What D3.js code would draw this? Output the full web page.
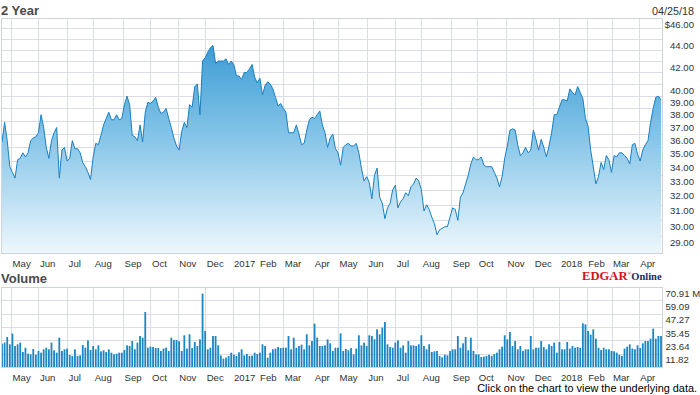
<!DOCTYPE html>
<html>
<head>
<meta charset="utf-8">
<script src="https://cdn.jsdelivr.net/npm/d3@7"></script>
<style>
  html, body { margin: 0; padding: 0; background: #fff; }
  svg { display: block; }
  text { font-family: "Liberation Sans", Arial, sans-serif; }
  text.logo { font-family: "Liberation Serif", "Times New Roman", serif; }
</style>
</head>
<body>
<svg id="chart" width="700" height="395"></svg>
<script>
// ---- data (sampled every 2 trading days, 21 Apr 2016 .. 25 Apr 2018) ----
const sampleStep = 2;
const priceValues = [
  35.4, 36.9, 35.5, 33.6, 33.2, 32.8, 34.1, 34.2, 34.6, 34.3,
  34.6, 35.5, 35.7, 35.8, 36.1, 37.5, 36.5, 35.0, 34.2, 35.5,
  36.1, 36.5, 32.8, 34.8, 35.0, 34.0, 34.2, 35.5, 34.9, 34.9,
  34.6, 33.9, 33.6, 33.2, 32.7, 34.3, 35.3, 35.2, 35.9, 36.7,
  37.2, 37.7, 37.1, 37.1, 37.5, 37.1, 37.2, 38.3, 39.0, 38.3,
  35.9, 35.8, 35.5, 36.7, 35.4, 37.7, 38.5, 38.4, 38.6, 38.9,
  38.1, 37.6, 37.7, 38.0, 37.2, 36.5, 35.7, 35.1, 34.8, 36.2,
  36.9, 36.5, 38.3, 38.1, 39.8, 40.0, 37.5, 42.0, 42.3, 42.8,
  43.2, 43.4, 41.8, 42.0, 42.0, 42.0, 42.2, 41.7, 42.0, 41.7,
  40.7, 40.7, 40.4, 41.0, 41.0, 41.3, 41.7, 40.6, 40.1, 40.5,
  39.1, 39.9, 40.2, 40.0, 39.6, 38.9, 38.2, 38.4, 38.0, 37.7,
  36.1, 36.1, 36.1, 36.7, 36.0, 35.2, 35.3, 36.3, 37.1, 37.3,
  37.2, 37.5, 37.8, 36.7, 36.1, 35.0, 35.7, 36.0, 34.9, 34.6,
  33.7, 35.0, 35.2, 35.3, 35.1, 35.1, 35.3, 34.6, 33.5, 32.6,
  32.9, 32.5, 31.4, 33.0, 33.5, 31.5, 31.1, 30.1, 30.8, 31.1,
  32.0, 32.3, 30.8, 31.2, 31.4, 31.8, 31.6, 32.2, 32.4, 32.8,
  32.6, 32.0, 30.6, 31.0, 30.7, 30.2, 29.8, 29.1, 29.4, 29.5,
  29.6, 29.6, 30.2, 30.8, 30.7, 30.0, 31.5, 31.8, 32.4, 33.0,
  33.8, 34.3, 34.1, 34.1, 34.3, 33.7, 33.6, 33.6, 33.6, 33.2,
  32.8, 32.2, 32.9, 34.2, 35.1, 36.3, 36.4, 36.3, 35.2, 34.4,
  34.6, 35.0, 34.6, 34.8, 36.3, 35.6, 34.8, 35.6, 35.0, 34.3,
  35.1, 36.1, 37.5, 37.5, 38.1, 38.7, 38.7, 38.6, 39.6, 39.3,
  39.1, 39.8, 39.3, 38.8, 37.2, 36.6, 34.8, 33.6, 32.4, 32.9,
  33.9, 33.4, 34.4, 34.1, 33.2, 34.4, 34.3, 34.6, 34.6, 34.4,
  34.2, 33.8, 35.2, 35.3, 34.5, 34.0, 34.8, 35.2, 35.5, 36.9,
  38.0, 38.9, 39.0, 38.7
];
const volumeValues = [
  20.7, 21.6, 26.6, 20.1, 29.6, 18.6, 20.1, 21.6, 13.3, 17.1,
  11.8, 11.2, 16.0, 10.9, 14.2, 12.7, 15.7, 17.1, 15.7, 21.6,
  14.8, 12.7, 26.0, 14.2, 15.7, 16.3, 10.6, 9.8, 15.7, 9.8,
  10.3, 19.5, 17.1, 23.6, 15.1, 18.6, 15.7, 19.2, 13.9, 14.8,
  13.3, 15.7, 12.7, 11.2, 11.8, 12.7, 12.7, 15.1, 19.2, 18.6,
  23.0, 15.7, 21.6, 27.5, 26.0, 48.8, 17.1, 18.0, 17.7, 16.8,
  16.8, 14.2, 16.3, 17.1, 14.2, 26.0, 23.9, 23.9, 22.8, 14.2,
  28.1, 16.3, 29.0, 16.8, 22.2, 18.6, 24.5, 65.0, 31.9, 15.7,
  17.1, 27.5, 27.5, 19.2, 10.3, 7.4, 8.3, 9.8, 12.7, 10.9,
  9.8, 13.0, 15.7, 10.3, 11.5, 9.8, 10.0, 12.7, 11.5, 12.7,
  20.1, 18.6, 8.3, 12.7, 15.7, 16.3, 17.7, 16.8, 17.1, 17.1,
  27.5, 15.7, 26.0, 17.1, 18.6, 19.8, 15.7, 29.0, 19.2, 23.0,
  38.4, 26.0, 18.6, 18.6, 19.2, 24.5, 21.0, 14.2, 17.1, 17.1,
  29.8, 14.2, 16.0, 14.8, 16.8, 11.2, 16.3, 28.1, 19.2, 21.6,
  18.6, 28.1, 27.5, 24.5, 33.4, 29.0, 34.9, 39.9, 20.1, 17.7,
  17.1, 21.6, 23.6, 17.1, 19.2, 12.7, 23.0, 19.2, 19.2, 18.6,
  20.1, 28.1, 18.6, 15.7, 20.1, 13.3, 13.9, 14.2, 9.8, 8.6,
  10.9, 10.3, 14.2, 15.7, 15.7, 27.5, 17.1, 21.0, 26.6, 14.8,
  26.0, 14.2, 11.2, 11.2, 8.9, 9.2, 9.8, 10.9, 9.8, 11.5,
  12.7, 15.7, 18.0, 28.1, 24.5, 31.0, 18.6, 23.0, 15.7, 18.6,
  14.2, 15.7, 15.7, 27.5, 15.7, 17.1, 17.1, 23.0, 17.7, 15.7,
  20.1, 18.6, 21.6, 12.7, 22.2, 15.7, 15.7, 22.2, 16.3, 18.6,
  17.1, 17.7, 17.1, 38.7, 37.8, 31.9, 28.7, 33.4, 25.1, 17.1,
  15.1, 17.1, 15.7, 15.7, 14.2, 13.9, 12.7, 10.9, 9.8, 16.3,
  18.0, 20.1, 16.3, 15.7, 19.2, 16.8, 21.0, 23.0, 23.0, 25.1,
  34.0, 25.1, 27.5, 27.5
];
const monthLabels = ["May","Jun","Jul","Aug","Sep","Oct","Nov","Dec","2017","Feb","Mar","Apr",
                     "May","Jun","Jul","Aug","Sep","Oct","Nov","Dec","2018","Feb","Mar","Apr"];
// trading days in each month (first entry: partial April 2016, last: April 2018 to the 25th)
const monthTradingDays = [7,21,22,20,23,21,21,21,21,20,19,23,19,22,22,20,23,20,22,21,20,21,19,21,18];
const priceTickValues = [46,44,42,40,39,38,37,36,35,34,33,32,31,30,29];
const priceGridValues = [29,30,31,32,33,34,35,36,37,38,39,40,41,42,43,44,45];
const volumeTickValues = [70.91, 59.09, 47.27, 35.45, 23.64, 11.82];
const volumeMax = 70.91;
const priceDomain = [28, 46];
const titleText = "2 Year";
const dateText = "04/25/18";

// ---- layout ----
const svg = d3.select("#chart");
const L = 1, R = 662;
const pTop = 18, pBot = 253;
const vTop = 287, vBot = 367;
const totalDays = d3.sum(monthTradingDays);

const x = d3.scaleLinear().domain([0, totalDays - 1]).range([2, 661]);
const yP = d3.scaleLog().domain(priceDomain).range([pBot, pTop]);
const yV = d3.scaleLinear().domain([0, volumeMax]).range([vBot, vTop]);

const monthStarts = [];
{ let c = 0; for (let i = 0; i < monthTradingDays.length - 1; i++) { c += monthTradingDays[i]; monthStarts.push(c); } }

const gridColor = "#dadee4";
const frameColor = "#cfd4da";
const labelColor = "#333";
const crisp = v => Math.round(v) + 0.5;

const defs = svg.append("defs");
const grad = defs.append("linearGradient").attr("id", "areaGrad")
  .attr("gradientUnits", "userSpaceOnUse").attr("x1", 0).attr("x2", 0).attr("y1", pTop).attr("y2", pBot);
grad.append("stop").attr("offset", 0).attr("stop-color", "#2790cf");
grad.append("stop").attr("offset", 0.5).attr("stop-color", "#84c4e8");
grad.append("stop").attr("offset", 1).attr("stop-color", "#edf7fc");

// titles
svg.append("text").attr("x", 1).attr("y", 14.5).attr("font-size", 13).attr("font-weight", "bold")
  .attr("fill", "#4a4a4a").text(titleText);
svg.append("text").attr("x", 694).attr("y", 15).attr("font-size", 10.8).attr("text-anchor", "end")
  .attr("fill", labelColor).text(dateText);
svg.append("text").attr("x", 1).attr("y", 282.5).attr("font-size", 13).attr("font-weight", "bold")
  .attr("fill", "#4a4a4a").text("Volume");

// ---- price panel ----
const gP = svg.append("g");
gP.selectAll("line.hg").data(priceGridValues).enter().append("line")
  .attr("x1", L).attr("x2", R).attr("y1", d => crisp(yP(d))).attr("y2", d => crisp(yP(d)))
  .attr("stroke", gridColor).attr("stroke-width", 1);
gP.selectAll("line.vg").data(monthStarts).enter().append("line")
  .attr("x1", d => crisp(x(d))).attr("x2", d => crisp(x(d))).attr("y1", pTop).attr("y2", pBot)
  .attr("stroke", gridColor).attr("stroke-width", 1);

const pts = priceValues.map((v, i) => [i * sampleStep, v]);
const area = d3.area().x(d => x(d[0])).y0(pBot).y1(d => yP(d[1]));
const line = d3.line().x(d => x(d[0])).y(d => yP(d[1]));
gP.append("path").attr("d", area(pts)).attr("fill", "url(#areaGrad)");
gP.append("path").attr("d", line(pts)).attr("fill", "none").attr("stroke", "#1a7fc0").attr("stroke-width", 1)
  .attr("stroke-linejoin", "round");
gP.append("rect").attr("x", L + 0.5).attr("y", pTop + 0.5).attr("width", R - L).attr("height", pBot - pTop)
  .attr("fill", "none").attr("stroke", frameColor);

gP.selectAll("text.pt").data(priceTickValues).enter().append("text")
  .attr("x", 694).attr("y", d => yP(d) + 9.5).attr("text-anchor", "end")
  .attr("font-size", 9.6).attr("fill", labelColor)
  .text((d, i) => (i === 0 ? "$" : "") + d3.format(".2f")(d));

gP.selectAll("text.mt").data(monthStarts).enter().append("text")
  .attr("x", d => x(d) + 1.5).attr("y", 266.5).attr("font-size", 9.6).attr("fill", labelColor)
  .text((d, i) => monthLabels[i]);

// ---- volume panel ----
const gV = svg.append("g");
gV.selectAll("line.hg").data(volumeTickValues).enter().append("line")
  .attr("x1", L).attr("x2", R).attr("y1", d => crisp(yV(d))).attr("y2", d => crisp(yV(d)))
  .attr("stroke", gridColor);
gV.selectAll("line.vg").data(monthStarts).enter().append("line")
  .attr("x1", d => crisp(x(d))).attr("x2", d => crisp(x(d))).attr("y1", vTop).attr("y2", vBot)
  .attr("stroke", gridColor);
const barW = 1.8;
gV.selectAll("rect.bar").data(volumeValues).enter().append("rect")
  .attr("x", (d, i) => x(i * sampleStep) - barW / 2).attr("width", barW)
  .attr("y", d => yV(d)).attr("height", d => vBot - yV(d))
  .attr("fill", "#1a86c2");
gV.append("rect").attr("x", L + 0.5).attr("y", vTop + 0.5).attr("width", R - L).attr("height", vBot - vTop)
  .attr("fill", "none").attr("stroke", frameColor);

gV.selectAll("text.vt").data(volumeTickValues).enter().append("text")
  .attr("x", 665.5).attr("y", d => yV(d) + 9.5).attr("font-size", 9.6).attr("fill", labelColor)
  .text((d, i) => d3.format(".2f")(d) + (i === 0 ? " M" : ""));

gV.selectAll("text.mt").data(monthStarts).enter().append("text")
  .attr("x", d => x(d) + 1.5).attr("y", 380.5).attr("font-size", 9.6).attr("fill", labelColor)
  .text((d, i) => monthLabels[i]);

// logo
const logo = svg.append("text").attr("class", "logo").attr("x", 582).attr("y", 279.5)
  .attr("font-weight", "bold");
logo.append("tspan").attr("font-size", 12.6).attr("fill", "#d2141c").text("EDGAR");
logo.append("tspan").attr("font-size", 5).attr("fill", "#d2141c").attr("dy", -5).text("®");
logo.append("tspan").attr("font-size", 10.5).attr("fill", "#1c2b5e").attr("dy", 5).text("Online");

svg.append("text").attr("x", 697).attr("y", 392).attr("font-size", 10.9).attr("text-anchor", "end")
  .attr("fill", "#000").text("Click on the chart to view the underlying data.");
</script>
</body>
</html>
